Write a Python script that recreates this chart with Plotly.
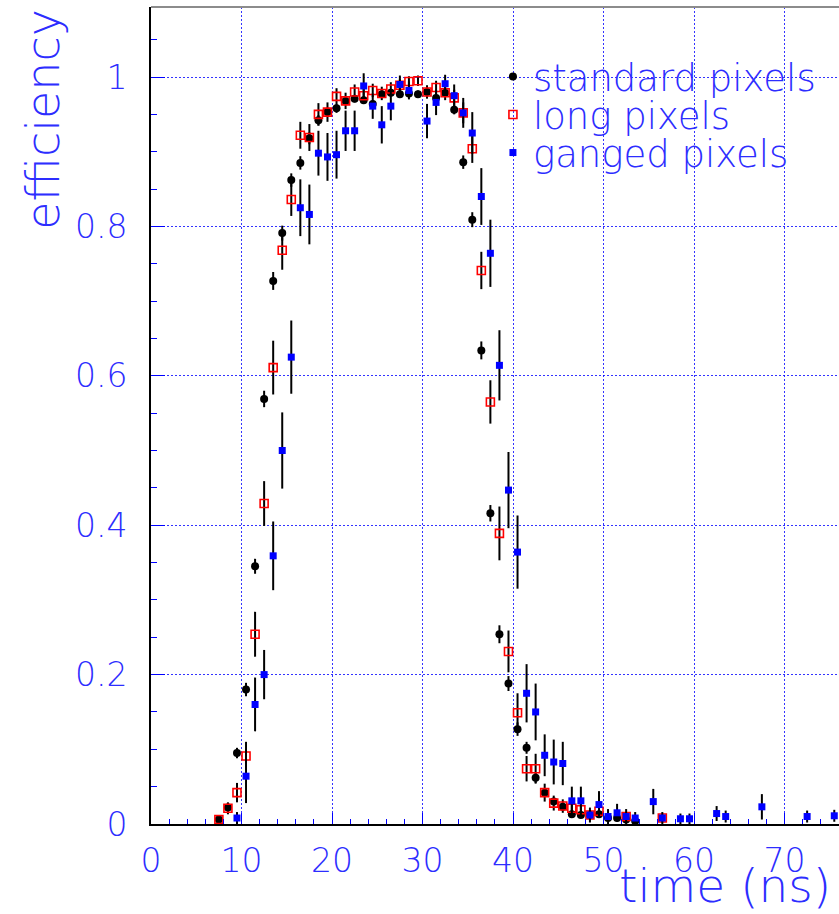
import plotly.graph_objects as go

# Efficiency vs. time, 1 ns bins (bin centres)
time_std = [7.5, 8.5, 9.5, 10.5, 11.5, 12.5, 13.5, 14.5, 15.5, 16.5, 17.5, 18.5, 19.5,
            20.5, 21.5, 22.5, 23.5, 24.5, 25.5, 26.5, 27.5, 28.5, 29.5, 30.5, 31.5, 32.5,
            33.5, 34.5, 35.5, 36.5, 37.5, 38.5, 39.5, 40.5, 41.5, 42.5, 43.5, 44.5, 45.5,
            46.5, 47.5, 48.5, 49.5, 50.5, 51.5, 52.5, 53.5]
eff_std = [0.006, 0.022, 0.095, 0.180, 0.345, 0.569, 0.727, 0.791, 0.862, 0.885, 0.918,
           0.942, 0.953, 0.958, 0.968, 0.971, 0.969, 0.964, 0.977, 0.979, 0.977, 0.978,
           0.977, 0.980, 0.972, 0.979, 0.956, 0.886, 0.809, 0.634, 0.416, 0.254, 0.188,
           0.127, 0.102, 0.062, 0.042, 0.030, 0.023, 0.013, 0.012, 0.012, 0.013, 0.008,
           0.008, 0.006, 0.004]
err_std = [0.003, 0.005, 0.007, 0.009, 0.010, 0.011, 0.012, 0.010, 0.009, 0.009, 0.008,
           0.007, 0.006, 0.006, 0.005, 0.005, 0.005, 0.005, 0.005, 0.005, 0.005, 0.005,
           0.005, 0.005, 0.005, 0.005, 0.006, 0.009, 0.010, 0.012, 0.011, 0.012, 0.010,
           0.009, 0.008, 0.007, 0.006, 0.005, 0.005, 0.004, 0.004, 0.004, 0.004, 0.003,
           0.003, 0.003, 0.002]

time_long = [7.5, 8.5, 9.5, 10.5, 11.5, 12.5, 13.5, 14.5, 15.5, 16.5, 17.5, 18.5, 19.5,
             20.5, 21.5, 22.5, 23.5, 24.5, 25.5, 26.5, 27.5, 28.5, 29.5, 30.5, 31.5, 32.5,
             33.5, 34.5, 35.5, 36.5, 37.5, 38.5, 39.5, 40.5, 41.5, 42.5, 43.5, 44.5, 45.5,
             46.5, 47.5, 48.5, 49.5, 52.5, 56.5]
eff_long = [0.006, 0.021, 0.042, 0.091, 0.254, 0.429, 0.611, 0.768, 0.836, 0.922, 0.919,
            0.950, 0.953, 0.974, 0.968, 0.980, 0.975, 0.982, 0.978, 0.984, 0.989, 0.994,
            0.995, 0.980, 0.986, 0.979, 0.972, 0.952, 0.904, 0.741, 0.565, 0.389, 0.231,
            0.149, 0.074, 0.074, 0.042, 0.028, 0.024, 0.021, 0.019, 0.012, 0.017, 0.010,
            0.008]
err_long = [0.004, 0.008, 0.013, 0.019, 0.030, 0.030, 0.036, 0.026, 0.022, 0.018, 0.018,
            0.015, 0.013, 0.011, 0.011, 0.010, 0.010, 0.009, 0.009, 0.009, 0.008, 0.007,
            0.007, 0.009, 0.009, 0.010, 0.011, 0.014, 0.019, 0.025, 0.029, 0.036, 0.028,
            0.026, 0.017, 0.020, 0.012, 0.010, 0.009, 0.009, 0.008, 0.007, 0.008, 0.006,
            0.005]

time_gang = [9.5, 10.5, 11.5, 12.5, 13.5, 14.5, 15.5, 16.5, 17.5, 18.5, 19.5, 20.5, 21.5,
             22.5, 23.5, 24.5, 25.5, 26.5, 27.5, 28.5, 30.5, 31.5, 32.5, 33.5, 34.5, 35.5,
             36.5, 37.5, 38.5, 39.5, 40.5, 41.5, 42.5, 43.5, 44.5, 45.5, 46.5, 47.5, 48.5,
             49.5, 50.5, 51.5, 52.5, 53.5, 55.5, 56.5, 58.5, 59.5, 62.5, 63.5, 67.5, 72.5,
             75.5]
eff_gang = [0.008, 0.064, 0.160, 0.200, 0.359, 0.500, 0.625, 0.825, 0.816, 0.898, 0.893,
            0.896, 0.928, 0.928, 0.988, 0.961, 0.936, 0.961, 0.990, 0.982, 0.941, 0.966,
            0.991, 0.975, 0.952, 0.925, 0.840, 0.764, 0.614, 0.447, 0.364, 0.175, 0.150,
            0.092, 0.083, 0.081, 0.031, 0.031, 0.012, 0.026, 0.010, 0.015, 0.010, 0.008,
            0.030, 0.008, 0.007, 0.007, 0.014, 0.010, 0.023, 0.010, 0.011]
err_gang = [0.008, 0.036, 0.036, 0.033, 0.046, 0.051, 0.049, 0.038, 0.040, 0.030, 0.032,
            0.032, 0.027, 0.027, 0.017, 0.017, 0.025, 0.019, 0.012, 0.012, 0.023, 0.017,
            0.012, 0.015, 0.020, 0.028, 0.038, 0.045, 0.047, 0.051, 0.049, 0.039, 0.038,
            0.028, 0.030, 0.029, 0.019, 0.019, 0.010, 0.018, 0.010, 0.012, 0.010, 0.008,
            0.017, 0.008, 0.007, 0.007, 0.010, 0.008, 0.017, 0.008, 0.008]

BLUE_TEXT = "rgb(45,45,255)"
FONT = "DejaVu Sans"
WEIGHT = 200

W, H = 839, 914
ML, MR, MT, MB = 151, 0, 7, 90
PLOT_H = H - MT - MB


def err_bars(values):
    return dict(type="data", array=values, visible=True, color="black",
                thickness=2, width=0)


def legend_row(row_px):
    # one legend box per entry, centred on the given pixel row
    return dict(x=0.497, y=(H - MB - row_px) / PLOT_H, xanchor="left", yanchor="middle",
                bgcolor="rgba(0,0,0,0)", borderwidth=0,
                font=dict(family=FONT, size=37, color=BLUE_TEXT, weight=WEIGHT))


fig = go.Figure()
fig.add_trace(go.Scatter(
    x=time_std, y=eff_std, mode="markers", name="standard pixels", legend="legend",
    marker=dict(symbol="circle", size=8, color="black"),
    error_y=err_bars(err_std)))
fig.add_trace(go.Scatter(
    x=time_long, y=eff_long, mode="markers", name="long pixels", legend="legend2",
    marker=dict(symbol="square-open", size=8, color="red", line=dict(width=1.6, color="red")),
    error_y=err_bars(err_long)))
fig.add_trace(go.Scatter(
    x=time_gang, y=eff_gang, mode="markers", name="ganged pixels", legend="legend3",
    marker=dict(symbol="square", size=7, color="blue", line=dict(width=0)),
    error_y=err_bars(err_gang)))

axis_common = dict(
    showgrid=True, gridcolor="rgba(0,0,255,0.8)", griddash="2px,2px", gridwidth=1,
    zeroline=False, showline=True, linecolor="black", linewidth=2,
    ticks="inside", tickcolor="blue", tickwidth=1,
    tickfont=dict(family=FONT, size=33, color=BLUE_TEXT, weight=WEIGHT),
)

fig.update_xaxes(
    range=[0, (W - ML - MR) / 9.05], tick0=0, dtick=10, ticklen=11,
    ticklabelstandoff=6,
    minor=dict(dtick=2, ticks="inside", ticklen=5, tickcolor="blue", showgrid=False),
    **axis_common)
fig.update_yaxes(
    range=[0, PLOT_H / 747.0], tick0=0, dtick=0.2, ticklen=14,
    tickformat="~g", ticklabelstandoff=15,
    minor=dict(dtick=0.05, ticks="inside", ticklen=6, tickcolor="blue", showgrid=False),
    **axis_common)

fig.update_layout(
    width=W, height=H,
    margin=dict(l=ML, r=MR, t=MT, b=MB, pad=0),
    plot_bgcolor="white", paper_bgcolor="white",
    showlegend=True,
    legend=legend_row(77),
    legend2=legend_row(115),
    legend3=legend_row(153),
    shapes=[dict(type="line", xref="paper", yref="paper", x0=0, x1=1, y0=1, y1=1,
                 line=dict(color="rgb(140,140,140)", width=2))],
    annotations=[
        dict(text="efficiency", xref="paper", yref="paper", x=-0.158, y=1.0,
             xanchor="center", yanchor="top", textangle=-90, showarrow=False,
             font=dict(family=FONT, size=46, color=BLUE_TEXT, weight=WEIGHT)),
        dict(text="time (ns)", xref="paper", yref="paper", x=1.0, y=-0.0755,
             xanchor="right", yanchor="middle", xshift=-6, showarrow=False,
             font=dict(family=FONT, size=47, color=BLUE_TEXT, weight=WEIGHT)),
    ],
)

fig.write_html("out.html")
